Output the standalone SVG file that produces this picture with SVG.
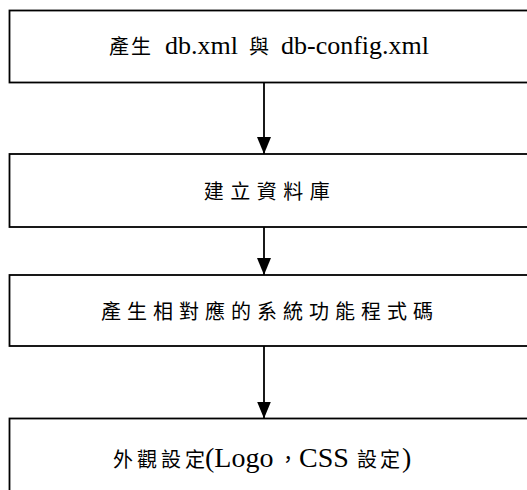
<svg xmlns="http://www.w3.org/2000/svg" width="527" height="490" viewBox="0 0 527 490">
<style>
.box{fill:#fff;stroke:#000;stroke-width:1.8}
.lbl{font-family:"Liberation Serif","Noto Sans CJK TC",serif;fill:#000}
.mid{text-anchor:middle}
.cjk{font-family:"Noto Sans CJK TC",sans-serif;font-size:20px}
.edge{stroke:#000;stroke-width:1.8;fill:none;marker-end:url(#ah)}
</style>
<defs>
<marker id="ah" markerUnits="userSpaceOnUse" markerWidth="17" markerHeight="14" refX="17" refY="7" orient="auto">
<path d="M0,0 L17,7 L0,14 z" fill="#000"/>
</marker>
</defs>
<rect width="527" height="490" fill="#fff"/>
<g id="connectors">
<line class="edge" x1="264" y1="83" x2="264" y2="154"/>
<line class="edge" x1="264" y1="227" x2="264" y2="275"/>
<line class="edge" x1="264" y1="346" x2="264" y2="418.5"/>
</g>
<g id="n1">
<rect class="box" x="9.5" y="10.5" width="530" height="72"/>
<text class="lbl" y="54" font-size="26"><tspan class="cjk" x="109" letter-spacing="2">產生</tspan><tspan x="165">db.xml</tspan><tspan class="cjk" x="249">與</tspan><tspan x="281">db-config.xml</tspan></text>
</g>
<g id="n2">
<rect class="box" x="9.5" y="154" width="530" height="73"/>
<text class="lbl mid" x="270" y="199"><tspan class="cjk" letter-spacing="6.5">建立資料庫</tspan></text>
</g>
<g id="n3">
<rect class="box" x="9.5" y="275" width="530" height="71"/>
<text class="lbl mid" x="270" y="319"><tspan class="cjk" letter-spacing="6">產生相對應的系統功能程式碼</tspan></text>
</g>
<g id="n4">
<rect class="box" x="9.5" y="418.5" width="530" height="80"/>
<text class="lbl" y="467" font-size="28"><tspan class="cjk" x="113" letter-spacing="4">外觀設定</tspan><tspan x="205">(Logo</tspan><tspan class="cjk" x="278">，</tspan><tspan x="299">CSS</tspan><tspan class="cjk" x="357">設</tspan><tspan class="cjk" x="380">定</tspan><tspan x="402">)</tspan></text>
</g>
</svg>
